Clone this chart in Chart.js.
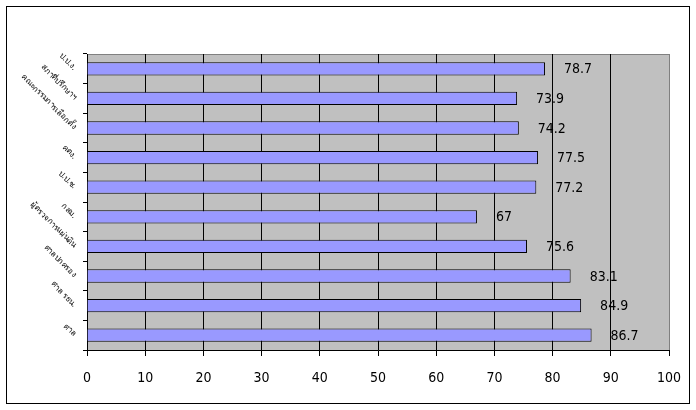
<!DOCTYPE html>
<html>
<head>
<meta charset="utf-8">
<script src="https://cdn.jsdelivr.net/npm/chart.js@4/dist/chart.umd.min.js"></script>
<style>
  html, body { margin: 0; padding: 0; background: #fff; }
  #wrap { width: 696px; height: 410px; }
</style>
</head>
<body>
<div id="wrap"><canvas id="barChart" width="696" height="410"></canvas></div>
<script>
// ข้อมูลของกราฟ (เรียงจากบนลงล่าง)
const categories = ['ป.ป.ง.', 'สภาที่ปรึกษาฯ', 'คณะกรรมการเลือกตั้ง', 'คตง.', 'ป.ป.ช.',
                    'กสม.', 'ผู้ตรวจการแผ่นดิน', 'ศาลปกครอง', 'ศาล รธน.', 'ศาล'];
const scores = [78.7, 73.9, 74.2, 77.5, 77.2, 67, 75.6, 83.1, 84.9, 86.7];
const xTicks = [0, 10, 20, 30, 40, 50, 60, 70, 80, 90, 100];

const numFont = "'Liberation Sans Narrow', 'DejaVu Sans Condensed', 'Arial Narrow', sans-serif";

// พื้นหลังสีเทาของพื้นที่กราฟ และกรอบนอก
const plotBackground = {
    id: 'plotBackground',
    beforeDraw(chart) {
        const ctx = chart.ctx;
        const a = chart.chartArea;
        ctx.save();
        ctx.fillStyle = '#ffffff';
        ctx.fillRect(0, 0, chart.width, chart.height);
        ctx.fillStyle = '#c0c0c0';
        ctx.fillRect(a.left, a.top, a.right - a.left, a.bottom - a.top);
        ctx.strokeStyle = '#808080';
        ctx.lineWidth = 1;
        ctx.strokeRect(a.left + 0.5, a.top + 0.5, a.right - a.left, a.bottom - a.top);
        ctx.strokeStyle = '#000000';
        ctx.strokeRect(6.5, 6.5, 683, 397);
        ctx.restore();
    }
};

// ตัวเลขที่ปลายแท่ง
const valueLabels = {
    id: 'valueLabels',
    afterDatasetsDraw(chart) {
        const ctx = chart.ctx;
        const meta = chart.getDatasetMeta(0);
        ctx.save();
        ctx.font = '14px ' + numFont;
        ctx.fillStyle = '#000';
        ctx.textAlign = 'left';
        ctx.textBaseline = 'middle';
        meta.data.forEach((bar, i) => {
            ctx.fillText(String(scores[i]), bar.x + 19, bar.y + 1);
        });
        ctx.restore();
    }
};

function initializeChart() {
    const canvas = document.getElementById('barChart');
    if (!canvas) return;

    new Chart(canvas.getContext('2d'), {
        type: 'bar',
        data: {
            labels: categories,
            datasets: [{
                data: scores,
                backgroundColor: '#9999ff',
                borderColor: '#000000',
                borderWidth: 1,
                barPercentage: 0.9,
                categoryPercentage: 0.5
            }]
        },
        options: {
            indexAxis: 'y',
            responsive: false,
            animation: false,
            layout: { padding: { left: 0, top: 54, right: 27, bottom: 0 } },
            plugins: {
                legend: { display: false },
                title: { display: false },
                tooltip: { enabled: false }
            },
            scales: {
                x: {
                    min: 0,
                    max: 100,
                    afterBuildTicks(scale) {
                        scale.ticks = xTicks.map(v => ({ value: v }));
                    },
                    afterFit(scale) { scale.height = 60; },
                    grid: {
                        color: ctx => (ctx.tick && ctx.tick.value > 0 && ctx.tick.value < 100) ? '#000000' : 'rgba(0,0,0,0)',
                        tickColor: '#000000',
                        tickLength: 6,
                        lineWidth: 1
                    },
                    border: { color: '#000000', width: 1 },
                    ticks: {
                        color: '#000',
                        font: { family: numFont, size: 14 },
                        padding: 14,
                        maxRotation: 0
                    }
                },
                y: {
                    afterFit(scale) { scale.width = 87; },
                    grid: {
                        drawOnChartArea: false,
                        drawTicks: true,
                        tickLength: 4,
                        color: '#000000',
                        offset: true
                    },
                    border: { color: '#000000', width: 1 },
                    ticks: {
                        color: '#000',
                        font: { family: "Tahoma, 'Noto Sans', sans-serif", size: 8 },
                        minRotation: -45,
                        maxRotation: -45,
                        padding: 8
                    }
                }
            }
        },
        plugins: [plotBackground, valueLabels]
    });
}

document.addEventListener('DOMContentLoaded', initializeChart);
</script>
</body>
</html>
